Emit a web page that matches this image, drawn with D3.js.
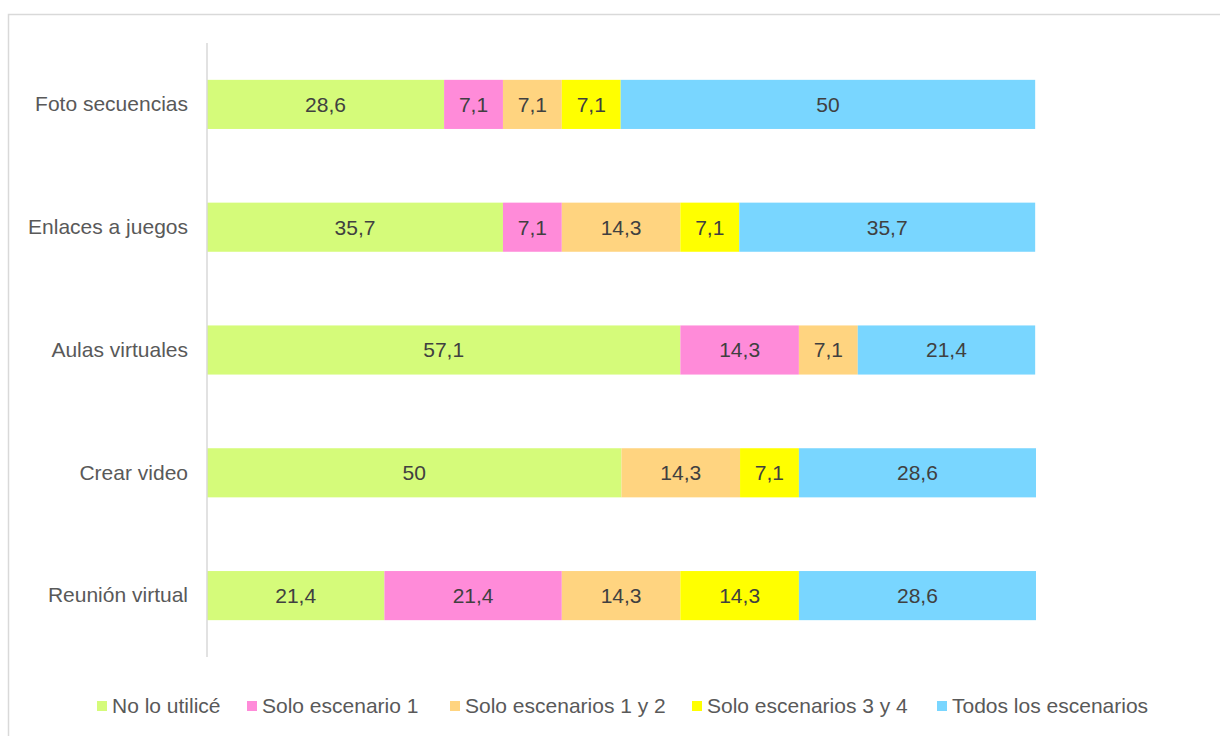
<!DOCTYPE html>
<meta charset="utf-8">
<title>Recursos por escenario</title>
<style>
body {
  margin: 0;
  background: #fff;
}
text {
  font-family: "Liberation Sans", Arial, sans-serif;
  font-size: 21px;
}
</style>
<body>
<script src="https://cdn.jsdelivr.net/npm/d3@7/dist/d3.min.js"></script>
<script>

var categories = ["Foto secuencias", "Enlaces a juegos", "Aulas virtuales", "Crear video", "Reunión virtual"];
var seriesNames = ["No lo utilicé", "Solo escenario 1", "Solo escenarios 1 y 2", "Solo escenarios 3 y 4", "Todos los escenarios"];
var colors = ["#d5fb7a", "#ff8bd9", "#ffd480", "#ffff00", "#79d6ff"];

var noUtilice   = [28.6, 35.7, 57.1, 50, 21.4];
var solo1       = [7.1, 7.1, 14.3, 0, 21.4];
var solo12      = [7.1, 14.3, 7.1, 14.3, 14.3];
var solo34      = [7.1, 7.1, 0, 7.1, 14.3];
var todos       = [50, 35.7, 21.4, 28.6, 28.6];

var series = [noUtilice, solo1, solo12, solo34, todos];

var w = 1220,
    h = 736;

var svg = d3.select("body").append("svg")
    .attr("width", w)
    .attr("height", h);

// chart frame
svg.append("rect")
    .attr("x", 8.5)
    .attr("y", 14.5)
    .attr("width", 1400)
    .attr("height", 900)
    .attr("fill", "none")
    .attr("stroke", "#d9d9d9")
    .attr("stroke-width", 1.5);

var x = d3.scaleLinear().domain([0, 100]).range([207, 1036]);
var y = d3.scaleBand().domain(categories).range([43, 657]).paddingInner(0.6).paddingOuter(0.3);

var rows = categories.map(function(c, i) {
  var row = { cat: c };
  seriesNames.forEach(function(s, j) { row[s] = series[j][i]; });
  return row;
});

var stacked = d3.stack().keys(seriesNames)(rows);

var layer = svg.selectAll("g.layer")
    .data(stacked)
  .enter().append("g")
    .attr("class", "layer")
    .attr("fill", function(d, i) { return colors[i]; });

layer.selectAll("rect")
    .data(function(d) { return d.filter(function(p) { return p[1] - p[0] > 0; }); })
  .enter().append("rect")
    .attr("x", function(d) { return x(d[0]); })
    .attr("y", function(d) { return y(d.data.cat); })
    .attr("width", function(d) { return x(d[1]) - x(d[0]); })
    .attr("height", y.bandwidth());

layer.selectAll("text")
    .data(function(d) { return d.filter(function(p) { return p[1] - p[0] > 0; }); })
  .enter().append("text")
    .attr("x", function(d) { return (x(d[0]) + x(d[1])) / 2; })
    .attr("y", function(d) { return y(d.data.cat) + y.bandwidth() / 2; })
    .attr("dy", "0.35em")
    .attr("text-anchor", "middle")
    .attr("fill", "#404040")
    .text(function(d) { return String(+(d[1] - d[0]).toFixed(1)).replace(".", ","); });

// category axis
var yAxis = svg.append("g")
    .attr("transform", "translate(207,0)")
    .call(d3.axisLeft(y).tickSize(0).tickPadding(19));
yAxis.select(".domain").attr("stroke", "#d9d9d9").attr("stroke-width", 1.5)
    .attr("d", "M0,43V657");
yAxis.selectAll("text")
    .attr("fill", "#595959")
    .style("font-family", '"Liberation Sans", Arial, sans-serif')
    .style("font-size", "21px");

// legend
var legendX = [97, 247, 450, 692, 937];
var legend = svg.selectAll("g.legend")
    .data(seriesNames)
  .enter().append("g")
    .attr("class", "legend")
    .attr("transform", function(d, i) { return "translate(" + legendX[i] + ",706)"; });

legend.append("rect")
    .attr("x", 0)
    .attr("y", -5)
    .attr("width", 10)
    .attr("height", 10)
    .attr("fill", function(d, i) { return colors[i]; });

legend.append("text")
    .attr("x", 15)
    .attr("dy", "0.35em")
    .attr("fill", "#595959")
    .text(function(d) { return d; });

</script>
